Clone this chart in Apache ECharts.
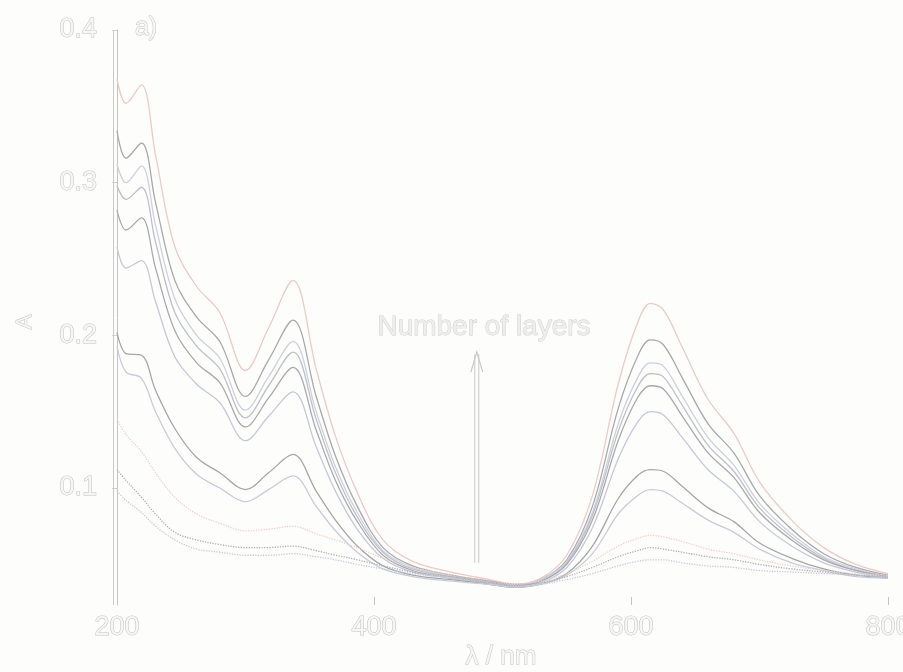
<!DOCTYPE html>
<html>
<head>
<meta charset="utf-8">
<script src="https://cdn.jsdelivr.net/npm/echarts@6/dist/echarts.min.js"></script>
<style>
  html, body { margin: 0; padding: 0; background: #fdfdfc; }
  #chart { width: 903px; height: 672px; }
</style>
</head>
<body>
<div id="chart"></div>
<script>
// Wavelength grid (nm)
const wavelengths = [200, 207, 219, 230, 245, 262, 280, 300, 318, 337, 355, 370, 387, 407, 430, 460, 490, 510, 530, 550, 570, 590, 605, 615, 625, 640, 660, 680, 700, 725, 750, 775, 800];

// Absorbance spectra, highest film first
const film11 = [0.368, 0.352, 0.364, 0.318, 0.258, 0.232, 0.215, 0.177, 0.205, 0.236, 0.178, 0.134, 0.097, 0.066, 0.052, 0.045, 0.040, 0.037, 0.041, 0.056, 0.095, 0.168, 0.208, 0.221, 0.217, 0.192, 0.158, 0.136, 0.104, 0.079, 0.061, 0.050, 0.044];
const film10 = [0.334, 0.316, 0.326, 0.287, 0.236, 0.212, 0.196, 0.160, 0.184, 0.210, 0.160, 0.121, 0.088, 0.061, 0.049, 0.043, 0.039, 0.036, 0.040, 0.053, 0.088, 0.152, 0.186, 0.197, 0.194, 0.172, 0.142, 0.123, 0.095, 0.073, 0.057, 0.048, 0.043];
const film9  = [0.312, 0.300, 0.311, 0.272, 0.224, 0.200, 0.185, 0.151, 0.173, 0.196, 0.150, 0.114, 0.084, 0.059, 0.048, 0.042, 0.038, 0.036, 0.040, 0.052, 0.084, 0.142, 0.172, 0.182, 0.180, 0.160, 0.133, 0.115, 0.090, 0.070, 0.055, 0.047, 0.042];
const film8  = [0.298, 0.289, 0.297, 0.261, 0.215, 0.193, 0.178, 0.146, 0.167, 0.189, 0.145, 0.110, 0.081, 0.058, 0.047, 0.042, 0.038, 0.036, 0.039, 0.051, 0.082, 0.137, 0.166, 0.175, 0.173, 0.154, 0.128, 0.111, 0.087, 0.068, 0.054, 0.046, 0.042];
const film7  = [0.282, 0.269, 0.277, 0.244, 0.203, 0.182, 0.169, 0.140, 0.159, 0.179, 0.138, 0.105, 0.078, 0.056, 0.046, 0.041, 0.038, 0.036, 0.039, 0.050, 0.079, 0.131, 0.159, 0.167, 0.165, 0.147, 0.123, 0.107, 0.084, 0.066, 0.053, 0.046, 0.042];
const film6  = [0.258, 0.244, 0.249, 0.222, 0.186, 0.168, 0.156, 0.131, 0.147, 0.163, 0.127, 0.098, 0.073, 0.054, 0.045, 0.041, 0.037, 0.035, 0.038, 0.048, 0.074, 0.119, 0.143, 0.150, 0.148, 0.133, 0.112, 0.098, 0.078, 0.062, 0.051, 0.045, 0.041];
const film5  = [0.202, 0.188, 0.187, 0.164, 0.139, 0.120, 0.110, 0.099, 0.110, 0.122, 0.098, 0.079, 0.062, 0.049, 0.043, 0.040, 0.037, 0.035, 0.037, 0.044, 0.062, 0.093, 0.108, 0.112, 0.111, 0.101, 0.087, 0.078, 0.064, 0.054, 0.047, 0.043, 0.041];
const film4  = [0.193, 0.176, 0.172, 0.150, 0.126, 0.109, 0.100, 0.091, 0.099, 0.108, 0.088, 0.072, 0.058, 0.047, 0.042, 0.039, 0.037, 0.035, 0.037, 0.043, 0.057, 0.083, 0.095, 0.099, 0.098, 0.090, 0.079, 0.071, 0.060, 0.051, 0.046, 0.042, 0.041];
const film3  = [0.145, 0.135, 0.124, 0.110, 0.094, 0.083, 0.077, 0.072, 0.073, 0.075, 0.070, 0.066, 0.061, 0.054, 0.048, 0.043, 0.039, 0.037, 0.039, 0.044, 0.052, 0.062, 0.067, 0.069, 0.068, 0.065, 0.060, 0.057, 0.053, 0.049, 0.046, 0.044, 0.043];
const film2  = [0.112, 0.105, 0.094, 0.083, 0.071, 0.066, 0.063, 0.061, 0.061, 0.062, 0.059, 0.056, 0.053, 0.049, 0.045, 0.042, 0.039, 0.037, 0.038, 0.042, 0.048, 0.055, 0.059, 0.061, 0.060, 0.058, 0.055, 0.053, 0.050, 0.047, 0.045, 0.043, 0.042];
const film1  = [0.098, 0.092, 0.084, 0.075, 0.066, 0.060, 0.058, 0.056, 0.056, 0.057, 0.055, 0.053, 0.050, 0.047, 0.044, 0.041, 0.038, 0.036, 0.037, 0.040, 0.044, 0.049, 0.052, 0.053, 0.053, 0.051, 0.049, 0.048, 0.046, 0.045, 0.044, 0.043, 0.042];

const xTicks = [200, 400, 600, 800];
const yTicks = [0.1, 0.2, 0.3, 0.4];

const spectra = [
  { data: film11, color: '#eccbc4', type: 'solid' },
  { data: film10, color: '#a9a9ad', type: 'solid' },
  { data: film9,  color: '#cdd0e0', type: 'solid' },
  { data: film8,  color: '#bfc0c8', type: 'solid' },
  { data: film7,  color: '#a9a9ae', type: 'solid' },
  { data: film6,  color: '#c5c8da', type: 'solid' },
  { data: film5,  color: '#a6a6aa', type: 'solid' },
  { data: film4,  color: '#c9cbdc', type: 'solid' },
  { data: film3,  color: '#efd0c9', type: 'dotted' },
  { data: film2,  color: '#b0b0b4', type: 'dotted' },
  { data: film1,  color: '#c8cad8', type: 'dotted' }
];

const hollowText = {
  fontFamily: 'Liberation Sans, Arial, sans-serif',
  color: '#f6f6f5',
  textBorderColor: '#c2c2c2',
  textBorderWidth: 1
};

const chart = echarts.init(document.getElementById('chart'), null, { renderer: 'canvas' });

chart.setOption({
  backgroundColor: '#fdfdfc',
  animation: false,
  grid: { left: 117, right: 15, top: 30, bottom: 67, containLabel: false, outerBoundsMode: 'none' },
  xAxis: {
    type: 'value',
    min: 200,
    max: 800,
    interval: 200,
    axisLine: { show: false },
    axisTick: { show: true, inside: true, length: 8, lineStyle: { color: '#c4c4c4', width: 1 } },
    axisLabel: Object.assign({ fontSize: 27, margin: 9, customValues: xTicks }, hollowText),
    splitLine: { show: false }
  },
  yAxis: {
    type: 'value',
    min: 0.0234,
    max: 0.4,
    axisLine: { show: true, lineStyle: { color: '#c4c4c4', width: 1 } },
    axisTick: { show: true, length: 5, customValues: yTicks, lineStyle: { color: '#cfcfcf' } },
    axisLabel: Object.assign({ fontSize: 27, margin: 20, customValues: yTicks, formatter: v => v.toFixed(1) }, hollowText),
    splitLine: { show: false }
  },
  series: spectra.map((s, k) => ({
    type: 'line',
    name: 'film' + (spectra.length - k),
    data: wavelengths.map((w, i) => [w, s.data[i]]),
    smooth: 0.35,
    showSymbol: false,
    lineStyle: { color: s.color, width: 1.3, type: s.type },
    z: 2 + k
  }))
});

// Annotations: second stroke of the y axis, arrow, labels
const p0 = chart.convertToPixel({ gridIndex: 0 }, [200, 0.4]);
const p1 = chart.convertToPixel({ gridIndex: 0 }, [200, 0.0234]);
const aBottom = chart.convertToPixel({ gridIndex: 0 }, [480, 0.051]);
const aTop = chart.convertToPixel({ gridIndex: 0 }, [480, 0.189]);
const lineCol = '#c8c8c8';

chart.setOption({
  graphic: [
    { type: 'line', shape: { x1: p0[0] - 3.5, y1: p0[1], x2: p1[0] - 3.5, y2: p1[1] }, style: { stroke: lineCol, lineWidth: 1 } },
    { type: 'line', shape: { x1: aBottom[0] - 2, y1: aBottom[1], x2: aTop[0] - 2, y2: aTop[1] + 2 }, style: { stroke: lineCol, lineWidth: 1 } },
    { type: 'line', shape: { x1: aBottom[0] + 2, y1: aBottom[1], x2: aTop[0] + 2, y2: aTop[1] + 2 }, style: { stroke: lineCol, lineWidth: 1 } },
    { type: 'polyline', shape: { points: [[aTop[0] - 6, aTop[1] + 20], [aTop[0], aTop[1]], [aTop[0] + 6, aTop[1] + 20]] }, style: { stroke: lineCol, lineWidth: 1.2, fill: null } },
    { type: 'text', x: 484, y: 327, style: { text: 'Number of layers', font: '28px "Liberation Sans", Arial, sans-serif', fill: '#eeeeed', stroke: '#cdcdcd', lineWidth: 0.9, align: 'center', verticalAlign: 'middle' } },
    { type: 'text', x: 146, y: 28, style: { text: 'a)', font: '25px "Liberation Sans", Arial, sans-serif', fill: '#f6f6f5', stroke: '#c4c4c4', lineWidth: 1, align: 'center', verticalAlign: 'middle' } },
    { type: 'text', x: 501, y: 657, style: { text: 'λ / nm', font: '26px "Liberation Sans", Arial, sans-serif', fill: '#f6f6f5', stroke: '#c4c4c4', lineWidth: 1, align: 'center', verticalAlign: 'middle' } },
    { type: 'text', x: 25, y: 322, rotation: Math.PI / 2, style: { text: 'A', font: '22px "Liberation Sans", Arial, sans-serif', fill: '#f6f6f5', stroke: '#c4c4c4', lineWidth: 1, align: 'center', verticalAlign: 'middle' } }
  ]
});
</script>
</body>
</html>
